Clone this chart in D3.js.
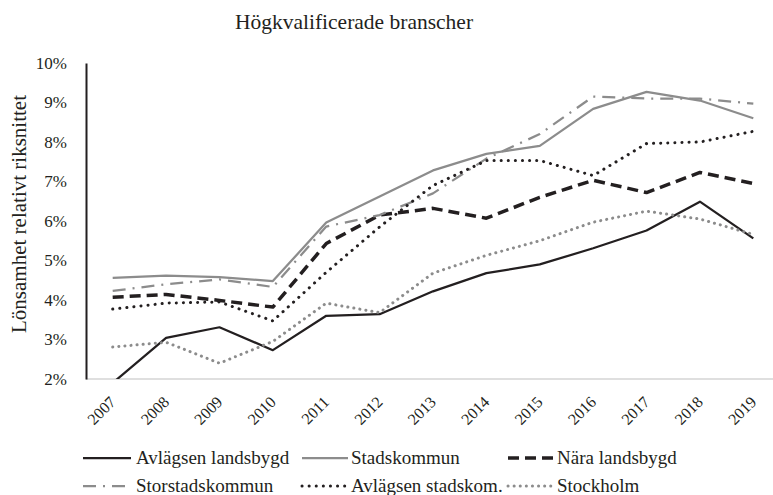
<!DOCTYPE html>
<html>
<head>
<meta charset="utf-8">
<script src="https://cdn.jsdelivr.net/npm/d3@7"></script>
<style>
  body { margin: 0; background: #fff; }
  text { font-family: "Liberation Serif", "DejaVu Serif", serif; fill: #231f20; }
</style>
</head>
<body>
<script>
// Data (percent)
var years = ["2007", "2008", "2009", "2010", "2011", "2012", "2013", "2014", "2015", "2016", "2017", "2018", "2019"];
var avlagsenLandsbygd = [1.9, 3.04, 3.31, 2.73, 3.6, 3.64, 4.22, 4.68, 4.9, 5.31, 5.76, 6.49, 5.56];
var stadskommun = [4.56, 4.62, 4.58, 4.48, 5.96, 6.62, 7.28, 7.7, 7.9, 8.84, 9.27, 9.05, 8.6];
var naraLandsbygd = [4.07, 4.14, 3.99, 3.82, 5.43, 6.15, 6.32, 6.07, 6.6, 7.03, 6.72, 7.23, 6.95];
var storstadskommun = [4.23, 4.4, 4.52, 4.33, 5.86, 6.15, 6.7, 7.58, 8.2, 9.15, 9.1, 9.1, 8.97];
var avlagsenStadskom = [3.77, 3.92, 3.95, 3.47, 4.7, 5.85, 6.9, 7.53, 7.53, 7.15, 7.96, 8.0, 8.27];
var stockholm = [2.81, 2.93, 2.4, 2.95, 3.92, 3.68, 4.68, 5.13, 5.5, 5.97, 6.25, 6.05, 5.66];
var yTicks = [2, 3, 4, 5, 6, 7, 8, 9, 10];

var series = [
  {name: "Avlägsen landsbygd", values: avlagsenLandsbygd, color: "#231f20", width: 2.25, dash: null, cap: "butt"},
  {name: "Stadskommun", values: stadskommun, color: "#8c8c8c", width: 2.25, dash: null, cap: "butt"},
  {name: "Nära landsbygd", values: naraLandsbygd, color: "#231f20", width: 3.5, dash: "11,6", cap: "butt"},
  {name: "Storstadskommun", values: storstadskommun, color: "#8c8c8c", width: 2.25, dash: "13,7,2,7", cap: "butt"},
  {name: "Avlägsen stadskom.", values: avlagsenStadskom, color: "#231f20", width: 3, dash: "0.1,7", cap: "round"},
  {name: "Stockholm", values: stockholm, color: "#8c8c8c", width: 3, dash: "0.1,6", cap: "round"}
];

var W = 773, H = 495;
var plot = {left: 86, right: 780, top: 63, bottom: 379};

var svg = d3.select("body").append("svg")
    .attr("width", W)
    .attr("height", H);

var x = d3.scaleBand().domain(years).range([plot.left, plot.right]).paddingInner(0).paddingOuter(0);
var y = d3.scaleLinear().domain([2, 10]).range([plot.bottom, plot.top]);

function cx(d) { return x(d) + x.bandwidth() / 2; }

// Title
svg.append("text")
    .attr("x", 354)
    .attr("y", 29)
    .attr("text-anchor", "middle")
    .style("font-size", "21.5px")
    .text("Högkvalificerade branscher");

// Y axis title
svg.append("text")
    .attr("transform", "translate(26,214) rotate(-90)")
    .attr("text-anchor", "middle")
    .style("font-size", "21px")
    .text("Lönsamhet relativt riksnittet");

// X axis line (gray)
svg.append("line")
    .attr("x1", plot.left).attr("x2", W)
    .attr("y1", plot.bottom).attr("y2", plot.bottom)
    .attr("stroke", "#d4d4d4")
    .attr("stroke-width", 1.5);

// Y axis
var yAxis = svg.append("g")
    .attr("transform", "translate(" + plot.left + ",0)")
    .call(d3.axisLeft(y).tickValues(yTicks).tickSize(0).tickPadding(19)
      .tickFormat(function(d) { return d + "%"; }));
yAxis.select(".domain").attr("stroke", "#231f20").attr("stroke-width", 2);
yAxis.selectAll("text")
    .style("font-size", "17px")
    .style("font-family", "Liberation Serif, serif")
    .attr("fill", "#231f20");

// X tick labels, rotated
svg.append("g").selectAll("text")
    .data(years)
  .enter().append("text")
    .attr("transform", function(d) { return "translate(" + (cx(d) + 4) + "," + (plot.bottom + 24) + ") rotate(-45)"; })
    .attr("text-anchor", "end")
    .style("font-size", "16px")
    .text(function(d) { return d; });

// Clip to plot area
svg.append("clipPath").attr("id", "plotclip")
  .append("rect")
    .attr("x", plot.left).attr("y", plot.top - 5)
    .attr("width", W - plot.left).attr("height", plot.bottom - plot.top + 5);

var line = d3.line()
    .x(function(d, i) { return cx(years[i]); })
    .y(function(d) { return y(d); });

svg.append("g").attr("clip-path", "url(#plotclip)")
  .selectAll("path")
    .data(series)
  .enter().append("path")
    .attr("d", function(s) { return line(s.values); })
    .attr("fill", "none")
    .attr("stroke", function(s) { return s.color; })
    .attr("stroke-width", function(s) { return s.width; })
    .attr("stroke-dasharray", function(s) { return s.dash; })
    .attr("stroke-linecap", function(s) { return s.cap; })
    .attr("stroke-linejoin", "round");

// Legend
var legX = [83, 302, 508], legY = [458, 486];
var legend = svg.append("g").selectAll("g")
    .data(series)
  .enter().append("g")
    .attr("transform", function(s, i) { return "translate(" + legX[i % 3] + "," + legY[Math.floor(i / 3)] + ")"; });

legend.append("line")
    .attr("x1", 0).attr("x2", function(s, i) { return i % 3 == 0 ? 48 : 46; })
    .attr("y1", 0).attr("y2", 0)
    .attr("stroke", function(s) { return s.color; })
    .attr("stroke-width", function(s) { return s.width; })
    .attr("stroke-dasharray", function(s) { return s.dash; })
    .attr("stroke-linecap", function(s) { return s.cap; });

legend.append("text")
    .attr("x", function(s, i) { return i % 3 == 0 ? 53 : 49; })
    .attr("y", 0)
    .attr("dy", "0.33em")
    .style("font-size", "19px")
    .text(function(s) { return s.name; });
</script>
</body>
</html>
